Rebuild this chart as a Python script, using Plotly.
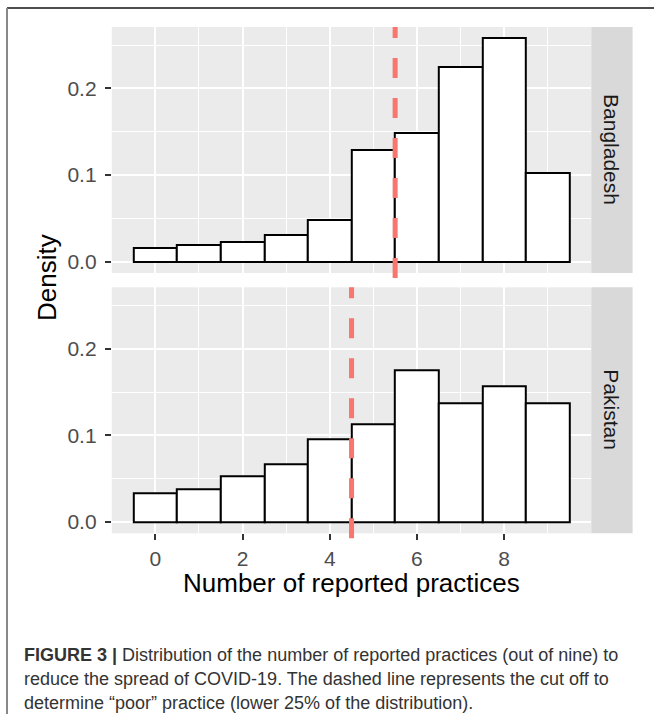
import plotly.graph_objects as go

W, H = 654, 714

practices = [0, 1, 2, 3, 4, 5, 6, 7, 8, 9]
bangladesh = [0.016, 0.019, 0.023, 0.031, 0.048, 0.129, 0.149, 0.225, 0.258, 0.102]
pakistan = [0.033, 0.038, 0.053, 0.067, 0.095, 0.113, 0.175, 0.137, 0.157, 0.137]
cutoffs = {"Bangladesh": 5.5, "Pakistan": 4.5}
y_ticks = [0.0, 0.1, 0.2]
x_ticks = [0, 2, 4, 6, 8]

caption_lines = [
    "<b>FIGURE 3 |</b> Distribution of the number of reported practices (out of nine) to",
    "reduce the spread of COVID-19. The dashed line represents the cut off to",
    "determine \u201cpoor\u201d practice (lower 25% of the distribution).",
]


def px_x(p):
    return p / W


def px_y(p):
    return 1 - p / H


FONT = "Liberation Sans, Arial, sans-serif"

# panel geometry (pixels)
pl, pr = 111.8, 591.3
top_t, top_b = 27.0, 273.0
bot_t, bot_b = 287.3, 533.3
strip_r = 632.6

fig = go.Figure()

bar_style = dict(color="white", line=dict(color="black", width=2))
fig.add_trace(go.Bar(x=practices, y=bangladesh, width=1, marker=bar_style,
                     xaxis="x", yaxis="y", showlegend=False))
fig.add_trace(go.Bar(x=practices, y=pakistan, width=1, marker=bar_style,
                     xaxis="x2", yaxis="y2", showlegend=False))

yrange = [-0.0129, 0.2709]
common_x = dict(range=[-1, 10], tickvals=x_ticks, showgrid=True, gridcolor="white",
                gridwidth=1.6, zeroline=False, showline=False,
                minor=dict(tick0=1, dtick=2, showgrid=True, gridcolor="white", gridwidth=0.8))
common_y = dict(range=yrange, tickvals=y_ticks, ticktext=["0.0", "0.1", "0.2"],
                showgrid=True, gridcolor="white", gridwidth=1.6, zeroline=False,
                showline=False, ticks="outside", ticklen=6, tickwidth=1.5,
                tickcolor="#333333", tickfont=dict(family=FONT, size=21, color="#4D4D4D"),
                ticklabelstandoff=4,
                minor=dict(tick0=0.05, dtick=0.1, showgrid=True, gridcolor="white", gridwidth=0.8))

fig.update_layout(
    width=W, height=H,
    margin=dict(l=0, r=0, t=0, b=0),
    paper_bgcolor="white",
    plot_bgcolor="#EBEBEB",
    bargap=0,
    xaxis=dict(domain=[px_x(pl), px_x(pr)], anchor="y", showticklabels=False, ticks="",
               **common_x),
    yaxis=dict(domain=[px_y(top_b), px_y(top_t)], anchor="x", **common_y),
    xaxis2=dict(domain=[px_x(pl), px_x(pr)], anchor="y2", matches="x", ticks="outside",
                ticklen=6, tickwidth=1.5, tickcolor="#333333",
                tickfont=dict(family=FONT, size=21, color="#4D4D4D"), **common_x),
    yaxis2=dict(domain=[px_y(bot_b), px_y(bot_t)], anchor="x2", **common_y),
    font=dict(family=FONT),
)

shapes = []
# dashed cutoff lines
for xref, yref, key in [("x", "y domain", "Bangladesh"), ("x2", "y2 domain", "Pakistan")]:
    shapes.append(dict(type="line", xref=xref, yref=yref, x0=cutoffs[key], x1=cutoffs[key],
                       y0=-0.02, y1=1.0, line=dict(color="#F8766D", width=5, dash="20px,20px"),
                       layer="above"))
# facet strips
for t, b in [(top_t, top_b), (bot_t, bot_b)]:
    shapes.append(dict(type="rect", xref="paper", yref="paper", x0=px_x(pr), x1=px_x(strip_r),
                       y0=px_y(b), y1=px_y(t), fillcolor="#D9D9D9", line=dict(width=0),
                       layer="below"))
# page frame (top & left)
shapes.append(dict(type="line", xref="paper", yref="paper", x0=px_x(7), x1=1.0,
                   y0=px_y(8), y1=px_y(8), line=dict(color="#4D4D4D", width=2)))
shapes.append(dict(type="line", xref="paper", yref="paper", x0=px_x(7), x1=px_x(7),
                   y0=px_y(8), y1=0.0, line=dict(color="#888888", width=2)))
fig.update_layout(shapes=shapes)

ann = []
strip_cx = (pr + strip_r) / 2
for name, (t, b) in [("Bangladesh", (top_t, top_b)), ("Pakistan", (bot_t, bot_b))]:
    ann.append(dict(text=name, xref="paper", yref="paper", x=px_x(strip_cx), y=px_y((t + b) / 2),
                    showarrow=False, textangle=90, xanchor="center", yanchor="middle",
                    font=dict(family=FONT, size=21, color="#1A1A1A")))
ann.append(dict(text="Number of reported practices", xref="paper", yref="paper",
                x=px_x((pl + pr) / 2), y=px_y(583), showarrow=False, xanchor="center",
                yanchor="middle", font=dict(family=FONT, size=26, color="black")))
ann.append(dict(text="Density", xref="paper", yref="paper", x=px_x(47), y=px_y(278),
                showarrow=False, textangle=-90, xanchor="center", yanchor="middle",
                font=dict(family=FONT, size=26, color="black")))
for i, line in enumerate(caption_lines):
    ann.append(dict(text=line, xref="paper", yref="paper", x=px_x(22), y=px_y(655 + 24 * i),
                    showarrow=False, xanchor="left", yanchor="middle",
                    font=dict(family=FONT, size=18, color="#333333")))
fig.update_layout(annotations=ann)

fig.write_html("out.html", config={"displayModeBar": False},
               post_script="document.body.style.margin='0';document.body.style.overflow='hidden';")
